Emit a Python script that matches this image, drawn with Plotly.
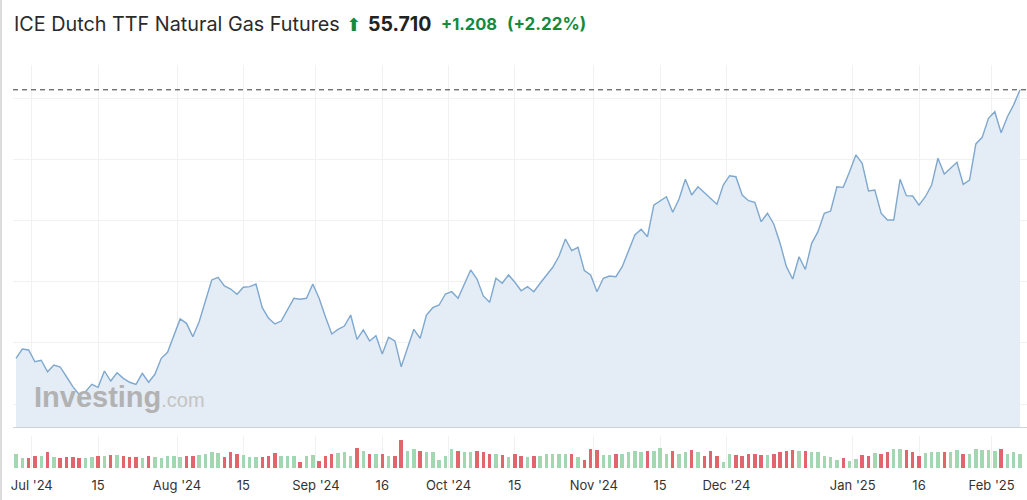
import pandas as pd
import plotly.graph_objects as go

# ---------------- data ----------------
holidays = ["2024-12-25", "2024-12-26", "2025-01-01"]
dates = [d.strftime("%Y-%m-%d") for d in pd.bdate_range("2024-06-26", "2025-02-07")
         if d.strftime("%Y-%m-%d") not in holidays]

prices = [
    33.74, 34.50, 34.42, 33.46, 33.58, 32.64, 33.19, 33.03, 32.23, 31.42,
    30.79, 31.01, 31.61, 31.37, 32.70, 31.88, 32.56, 32.10, 31.78, 31.61,
    32.51, 31.78, 32.43, 33.74, 34.23, 35.59, 36.96, 36.60, 35.51, 36.73,
    38.43, 40.15, 40.37, 39.66, 39.41, 38.98, 39.55, 39.60, 39.82, 37.88,
    37.01, 36.55, 36.79, 37.69, 38.65, 38.57, 38.65, 39.82, 38.65, 37.14,
    35.73, 36.11, 36.38, 37.28, 35.29, 36.06, 35.16, 35.59, 34.09, 35.46,
    35.16, 33.05, 34.56, 36.11, 35.38, 37.28, 37.88, 38.10, 39.00, 39.19,
    38.65, 39.88, 40.97, 40.23, 38.84, 38.32, 40.29, 39.88, 40.56, 39.96,
    39.27, 39.60, 39.19, 39.88, 40.56, 41.19, 42.11, 43.50, 42.55, 42.82,
    40.91, 40.56, 39.19, 40.29, 40.47, 40.42, 41.24, 42.60, 43.83, 44.30,
    43.69, 46.28, 46.61, 46.96, 45.69, 46.78, 48.39, 47.10, 47.78, 47.32,
    46.83, 46.34, 47.92, 48.68, 48.60, 47.10, 46.64, 46.51, 44.92, 45.61,
    44.73, 43.15, 41.24, 40.23, 42.05, 41.02, 43.15, 44.10, 45.61, 45.79,
    47.78, 47.73, 49.01, 50.38, 49.70, 47.43, 47.51, 45.61, 45.06, 45.06,
    48.39, 47.05, 47.02, 46.28, 46.96, 47.92, 50.11, 48.82, 49.29, 49.78,
    47.98, 48.33, 51.28, 51.82, 53.38, 53.92, 52.20, 53.51, 54.50, 55.71,
]

volumes = [
    14, 10, 10, 12, 12, 16, 11, 10, 11, 11,
    10, 10, 11, 12, 12, 13, 13, 12, 11, 11,
    10, 12, 11, 10, 12, 12, 11, 12, 12, 13,
    14, 16, 15, 11, 16, 14, 13, 11, 11, 11,
    12, 15, 12, 12, 12, 6, 12, 13, 7, 12,
    14, 15, 16, 12, 20, 17, 14, 14, 14, 12,
    12, 28, 17, 19, 17, 16, 16, 8, 12, 19,
    17, 16, 16, 17, 16, 14, 14, 13, 11, 14,
    12, 11, 12, 12, 14, 14, 14, 14, 14, 11,
    8, 19, 18, 13, 13, 14, 14, 16, 17, 16,
    17, 17, 20, 14, 17, 14, 16, 18, 16, 12,
    17, 12, 6, 14, 13, 12, 14, 14, 13, 13,
    14, 16, 17, 18, 17, 17, 16, 16, 12, 11,
    8, 10, 7, 9, 13, 12, 15, 14, 16, 19,
    19, 18, 16, 12, 15, 16, 16, 16, 16, 18,
    14, 14, 19, 18, 18, 17, 19, 14, 16, 14,
]
volumes = [v * 1000 for v in volumes]

tick_dates = ["2024-07-01", "2024-07-15", "2024-08-01", "2024-08-15", "2024-09-02",
              "2024-09-16", "2024-10-01", "2024-10-15", "2024-11-01", "2024-11-15",
              "2024-12-02", "2025-01-02", "2025-01-16", "2025-02-03"]
tick_labels = ["Jul '24", "15", "Aug '24", "15", "Sep '24", "16", "Oct '24", "15",
               "Nov '24", "15", "Dec '24", "Jan '25", "16", "Feb '25"]

title_text = "ICE Dutch TTF Natural Gas Futures"
last_price = "55.710"
change_text = "+1.208"
change_pct = "(+2.22%)"

# ---------------- figure ----------------
idx = list(range(len(dates)))
GREEN = "#a3d7b1"
RED = "#e2646c"
vol_colors = [GREEN] + [GREEN if prices[i] >= prices[i - 1] else RED for i in range(1, len(prices))]

# month labels sit at the month boundary (half a session earlier)
tickvals = [dates.index(d) - (0.5 if "'" in lab else 0.0) for d, lab in zip(tick_dates, tick_labels)]

fig = go.Figure()
fig.add_trace(go.Scatter(
    x=idx, y=prices, customdata=dates, mode="lines",
    line=dict(color="#7ea8cf", width=1.4),
    fill="tozeroy", fillcolor="#e4ecf5",
    xaxis="x2", yaxis="y", hovertemplate="%{customdata}: %{y:.3f}<extra></extra>",
))
fig.add_trace(go.Bar(
    x=idx, y=volumes, marker=dict(color=vol_colors, line=dict(width=0)),
    width=0.55, xaxis="x", yaxis="y2", customdata=dates,
    hovertemplate="%{customdata}: %{y}<extra></extra>",
))

W, H = 1027, 500
ML, MR, MT, MB = 13, 0, 65, 32
PW = W - ML - MR
PH = H - MT - MB


def px_x(p):
    return (p - ML) / PW


def px_y(p):
    return (H - MB - p) / PH


xr = [-0.475, 160.1]
grid = "#f1f1f1"
fig.update_layout(
    width=W, height=H,
    margin=dict(l=ML, r=MR, t=MT, b=MB),
    paper_bgcolor="white", plot_bgcolor="white",
    showlegend=False, bargap=0,
    font=dict(family="Inter, Roboto, sans-serif", color="#333333"),
    xaxis=dict(range=xr, anchor="y2", tickmode="array", tickvals=tickvals, ticktext=tick_labels,
               showgrid=True, gridcolor=grid, zeroline=False, showline=False,
               ticks="outside", ticklen=5, tickcolor="rgba(0,0,0,0)",
               tickfont=dict(size=13, color="#333333", family="Inter, sans-serif")),
    xaxis2=dict(range=xr, matches="x", anchor="y", tickmode="array", tickvals=tickvals,
                showticklabels=False, showgrid=True, gridcolor=grid, zeroline=False,
                showline=True, linecolor="#cfd3d8", linewidth=1),
    yaxis=dict(domain=[px_y(427), 1], range=[28.118, 57.74], tickvals=[30, 35, 40, 45, 50, 55],
               showticklabels=False, showgrid=True, gridcolor=grid, zeroline=False),
    yaxis2=dict(domain=[0, px_y(436)], range=[0, 32000], showticklabels=False,
                showgrid=False, zeroline=False),
    shapes=[
        dict(type="line", xref="paper", yref="y", x0=0, x1=1, y0=55.71, y1=55.71,
             line=dict(color="#3a3a3a", width=1, dash="5px,4px")),
        dict(type="line", xref="paper", yref="paper", x0=px_x(1), x1=px_x(1), y0=px_y(500), y1=px_y(0),
             line=dict(color="#dcdcdc", width=2)),
    ],
    annotations=[
        dict(xref="paper", yref="paper", x=px_x(12), y=px_y(24), xanchor="left", yanchor="middle",
             text=title_text, showarrow=False,
             font=dict(size=19.8, color="#2a2a2a", family="Inter, sans-serif")),
        dict(xref="paper", yref="paper", x=px_x(353), y=px_y(24), xanchor="center", yanchor="middle",
             text="⬆", showarrow=False,
             font=dict(size=18, color="#138a3c", family="DejaVu Sans")),
        dict(xref="paper", yref="paper", x=px_x(366), y=px_y(24), xanchor="left", yanchor="middle",
             text="<b>" + last_price + "</b>", showarrow=False,
             font=dict(size=19.5, color="#222222", family="Inter, sans-serif")),
        dict(xref="paper", yref="paper", x=px_x(439), y=px_y(24), xanchor="left", yanchor="middle",
             text="<b>" + change_text + "</b>", showarrow=False,
             font=dict(size=16.5, color="#138a3c", family="Inter, sans-serif")),
        dict(xref="paper", yref="paper", x=px_x(505), y=px_y(24), xanchor="left", yanchor="middle",
             text="<b>" + change_pct + "</b>", showarrow=False,
             font=dict(size=17, color="#138a3c", family="Inter, sans-serif")),
        dict(xref="paper", yref="paper", x=px_x(32), y=px_y(397), xanchor="left", yanchor="middle",
             text="<b>Investing</b><span style='font-size:20px;color:#c4c4c4'>.com</span>",
             showarrow=False,
             font=dict(size=29, color="#b2b2b2", family="Liberation Sans, Arial, sans-serif")),
    ],
)

fig.write_html("out.html", config={"displayModeBar": False},
               post_script="document.body.style.margin='0px';")
